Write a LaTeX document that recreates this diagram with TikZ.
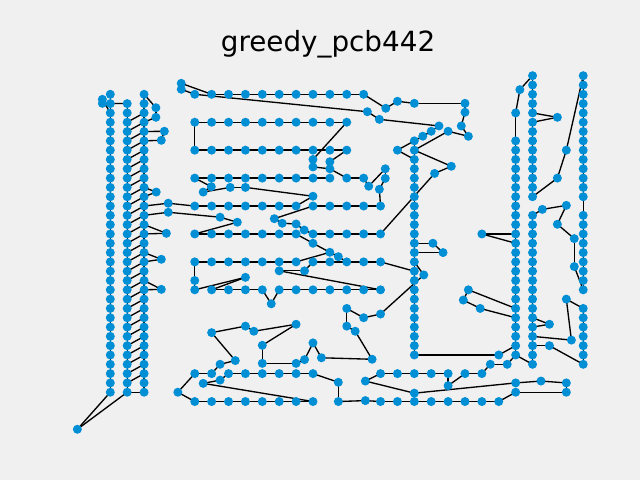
\documentclass[tikz,border=0pt]{standalone}
\usepackage{fontspec}
\setmainfont{DejaVu Sans}
\definecolor{bgc}{HTML}{F0F0F0}
\definecolor{nodec}{HTML}{008FD5}
\pgfdeclarelayer{bg}
\pgfsetlayers{bg,main}
\tikzset{pt/.style={circle,fill=nodec,inner sep=0pt,minimum size=6.75pt,draw=none},
  ed/.style={line width=1pt,black}}
\newcommand{\mkchain}[3]{\foreach \a [evaluate=\a as \b using int(\a+1)] in {#2,...,#3} {\draw[ed] (#1-\a.center) -- (#1-\b.center);}}
\begin{document}
\begin{tikzpicture}[x=12.6675pt,y=-6.9825pt]
\begin{pgfonlayer}{bg}
\fill[bgc] (-6.5305,-10.1289) rectangle (31.3618,41.4286);
\end{pgfonlayer}
\useasboundingbox (-6.5305,-10.1289) rectangle (31.3618,41.4286);
\node[anchor=base,font=\fontsize{20.85pt}{25pt}\selectfont] (title) at (12.89,-4.65) {greedy\_pcb442};
% left block
\foreach \k in {0,...,32} \node[pt] (L0-\k) at (0,\k) {};
\foreach \k in {1,...,32} \node[pt] (L1-\k) at (1,\k) {};
\foreach \k in {0,...,32} \node[pt] (L2-\k) at (2,\k) {};
% rows
\foreach \j in {5,...,15} \node[pt] (R0-\j) at (\j,0) {};
\foreach \j in {5,...,14} \node[pt] (R3-\j) at (\j,3) {};
\foreach \j in {5,...,14} \node[pt] (R6-\j) at (\j,6) {};
\foreach \j in {5,...,15} \node[pt] (R9-\j) at (\j,9) {};
\foreach \j in {5,...,16} \node[pt] (R12-\j) at (\j,12) {};
\foreach \j in {5,...,16} \node[pt] (R15-\j) at (\j,15) {};
\foreach \j in {5,...,16} \node[pt] (R18-\j) at (\j,18) {};
\foreach \j in {5,...,16} \node[pt] (R21-\j) at (\j,21) {};
\foreach \j in {5,...,12} \node[pt] (R30-\j) at (\j,30) {};
\foreach \j in {16,...,22} \node[pt] (R30-\j) at (\j,30) {};
\foreach \j in {5,...,12} \node[pt] (R33-\j) at (\j,33) {};
\foreach \j in {16,...,23} \node[pt] (R33-\j) at (\j,33) {};
% columns
\foreach \k in {5,...,28} \node[pt] (C18-\k) at (18,\k) {};
\foreach \k in {2,5,6,...,28} \node[pt] (C24-\k) at (24,\k) {};
\node[pt] (C25-m2) at (25,-2) {};
\node[pt] (C25-m1) at (25,-1) {};
\foreach \k in {0,...,11,13,14,...,29} \node[pt] (C25-\k) at (25,\k) {};
\node[pt] (C28-m2) at (28,-2) {};
\node[pt] (C28-m1) at (28,-1) {};
\foreach \k in {0,...,11,13,14,...,21,23,24,...,29} \node[pt] (C28-\k) at (28,\k) {};
% single nodes
\foreach \n/\x/\y in {la/-0.47/0.54, lb/-0.47/0.97, lc/2.7/1.44, ld/2.7/2.47, le/3.2/3.97, lf/3.02/4.94,
  lg/2.72/10.5, lh/3.43/11.7, li/3.43/12.67, lj/3.32/14.93, lk/3.02/17.72, ll/3.02/20.95, lz/-1.95/35.98,
  t1/4.2/-1.18, t2/4.2/-0.54, t3/15.22/1.87, t4/15.93/2.69, t5/16.31/1.5, t6/17/0.75, t7/18/0.97,
  t8/21/0.97, t9/21/1.93, t10/20.78/3.4, t11/21.2/4.51, t12/20/3.97, t13/19.46/3.4, t14/19/3.97,
  t15/18.5/4.5, t16/17/6, t17/20.19/7.73, t18/19.2/8.5,
  u1/12/7, u2/12/7.8, u3/13/7.24, u4/13/8, u5/15.3/9.87, u6/16.28/8, u7/16.28/9.03, u8/15.93/10.2,
  v1/5.98/9.92, v2/7.1/10, v3/8/10, v4/5.5/10.5, v5/12/10.95,
  m1/6.5/13.2, m2/7.52/13.74, m3/9.71/13.36, m4/10.18/13.85, m5/11/13.93, m6/11.48/14.58,
  m7/12/16, m8/13/16.97, m9/13.5/17.44, m10/10/18.96, m11/11.5/18.96, m12/8/19.66, m13/5/20, m14/9.53/22.5,
  w1/19.1/16, w2/19.7/17, w3/18.56/19.4, w4/22/15, w5/21.2/21, w6/20.9/22.1, w7/21.9/23,
  b1/14/23, b2/15/24, b3/16/23.6, b4/14/24.9, b5/14.5/25.45, b6/15.5/28.46, b7/8/24.9, b8/8.5/25.45,
  b9/11/24.7, b10/6/25.6, b11/9/26.96, b12/9/28.9, b13/11/28.9, b14/12/26.7, b15/11.5/28.5,
  b16/12.5/28.3, b17/7.4/28.6, b18/6.5/29, b19/13.5/30.93, b20/5.5/31.05, b21/6.5/30.7, b22/4/32,
  b23/13.5/33, b24/15.1/32.9, b25/15.1/30.8, b26/20/31.3, b27/18/32.1, b28/22.5/29, b29/23.5/29, b30/23/28,
  r1/24/31, r2/25.5/30.8, r3/27/31, r4/24/32, r5/27/32, r6/24.25/-0.5, r7/26.47/2.47, r8/26.47/9,
  r9/27/6, r10/25.58/12.36, r11/27/11.93, r12/26.47/13.96, r13/27.47/15.5, r14/27.47/18.5,
  r15/27/22, r16/27.3/26.4, r17/26/24.7, r18/26/27}
  \node[pt] (\n) at (\x,\y) {};
% edges
\begin{pgfonlayer}{bg}
\mkchain{L0}{0}{31}
\mkchain{L1}{1}{31}
\mkchain{L2}{0}{31}
\foreach \k [evaluate=\k as \p using int(\k-1)] in {3,...,31} \draw[ed] (L1-\k.center) -- (L2-\p.center);
\mkchain{R0}{6}{14}
\mkchain{R3}{5}{13}
\mkchain{R6}{5}{13}
\mkchain{R9}{5}{12}
\mkchain{R12}{5}{10}
\mkchain{R12}{12}{15}
\mkchain{R15}{5}{10}
\mkchain{R15}{12}{15}
\mkchain{R18}{5}{10}
\mkchain{R18}{12}{15}
\mkchain{R21}{6}{8}
\mkchain{R21}{10}{15}
\mkchain{R30}{7}{11}
\mkchain{R30}{16}{19}
\mkchain{R33}{5}{11}
\mkchain{R33}{16}{22}
\mkchain{C18}{5}{27}
\mkchain{C24}{5}{27}
\mkchain{C25}{0}{1}
\mkchain{C25}{3}{10}
\mkchain{C25}{13}{28}
\mkchain{C28}{0}{10}
\mkchain{C28}{13}{20}
\mkchain{C28}{23}{28}
\foreach \p/\q in {la/lb, lb/L1-1, la/L0-2, L2-0/lc, lc/ld, ld/L2-3, L2-4/le, L2-5/lf, le/lf,
  L2-10/lg, L2-11/lg, L2-12/lh, L2-13/li, L2-14/lj, L2-15/lj, L2-17/lk, L2-18/lk, L2-20/ll, L2-21/ll,
  L0-32/lz, L1-32/lz, L1-32/L2-32, lh/R12-5, li/m1,
  t1/R0-6, t1/t2, t2/R0-5, R0-5/t3, R0-15/t5, t5/t6, t6/t7, t7/t8, t8/t9, t9/t10, t10/t11, t11/t12,
  t12/C18-6, t3/t4, t4/t13, t13/t14, t14/t15, t15/C18-5, C18-5/t16, t16/C18-7, C18-6/t17, t17/t18, t18/R15-16,
  R3-5/R6-5, R3-14/u1, u1/u2, u2/u4, R6-14/u3, u3/u4, u4/R9-14, R9-14/R9-15, R9-15/u5, u5/u6, u6/u7,
  u7/u8, u8/R12-16, R9-5/v1, v1/v4, v4/v2, v2/v3, v3/v5, v5/R12-11, R12-12/m3, m1/m2, m2/R15-5,
  m3/m4, m4/m5, m5/m6, m6/R15-12, R15-11/m7, m7/m8, m8/m9, m8/R18-11, m9/R18-14, R18-12/m11, m11/m10,
  m10/R21-16, R18-5/m13, m13/R21-5, R21-5/m12, R21-6/m12, R21-9/m14, m14/R21-10, R18-16/C18-19,
  C18-18/w3, w3/b3, C18-16/w1, w1/w2, w2/C18-17, C18-28/b30, b30/C24-27, w4/C24-15, w4/C24-16,
  w5/w6, w6/w7, w5/C24-23, w7/C24-24,
  b1/b4, b4/b5, b5/b6, b6/b16, b16/b14, b14/b15, b15/b13, b13/b12, b12/b11, b11/b9, b9/b8, b8/b7,
  b7/b10, b10/b17, b17/b18, b18/R30-6, b1/b2, b2/b3, R30-5/R30-6, R30-7/b21, b21/b20, b20/R33-12,
  R30-12/b19, b19/b23, b23/b24, b24/R33-16, R33-23/r4, r4/r5, r5/r3, r3/r2, r2/r1, r1/b27, b27/b25,
  b25/R30-16, R30-20/b26, b26/R30-21, R30-21/R30-22, R30-22/b28, b28/b29, b29/C24-28, R30-5/b22, b22/R33-5,
  r6/C25-m2, r6/C24-2, C24-2/C24-5, C25-m2/C25-m1, C25-m1/C25-0, C25-2/r7, r7/C25-3, C25-11/r8, r8/r9,
  r9/C28-m2, C28-m2/C28-m1, C28-m1/C28-0, C28-11/C28-13, C28-21/r14, r14/r13, r13/r12, r12/r11, r11/r10,
  r10/C25-13, r15/C28-23, r15/r16, r16/C25-26, C25-27/r18, r18/C28-29, r17/C25-24, r17/C25-25, C25-29/C24-28}
  \draw[ed] (\p.center) -- (\q.center);
\end{pgfonlayer}
\end{tikzpicture}
\end{document}
